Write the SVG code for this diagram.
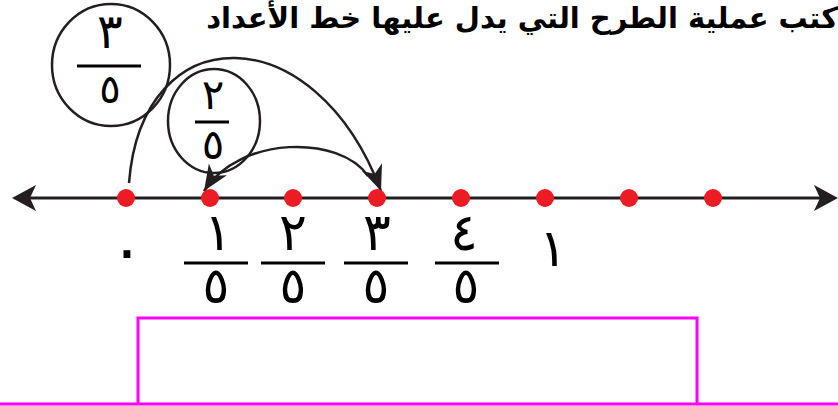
<svg xmlns="http://www.w3.org/2000/svg" width="838" height="406" viewBox="0 0 838 406">
<style>
.ink{stroke:#231f20;fill:none}
.num{font-family:"DejaVu Sans",sans-serif;fill:#000;text-anchor:middle}
.dot{fill:#ed1c24}
.bar{stroke:#000;stroke-width:3}
</style>
<defs>
<marker id="ah" markerUnits="userSpaceOnUse" markerWidth="30" markerHeight="30" refX="0" refY="0" viewBox="-26 -12 28 24" orient="auto">
<path d="M0,0 L-24,-10 L-17,0 L-24,10 Z" fill="#231f20"/>
</marker>
</defs>
<rect width="838" height="406" fill="#fff"/>
<text id="title" x="838" y="28" font-family="DejaVu Sans, sans-serif" font-weight="bold" font-size="29" text-anchor="end">كتب عملية الطرح التي يدل عليها خط الأعداد</text>
<g id="connectors">
<line x1="30" y1="198" x2="822" y2="198" class="ink" stroke-width="3"/>
<path d="M12,198 L36,185 L30,198 L36,211 Z" fill="#231f20"/>
<path d="M838,198 L814,185 L820,198 L814,211 Z" fill="#231f20"/>
<path d="M129,183 C142,15 315,15 381,191" class="ink" stroke-width="2.5" marker-end="url(#ah)"/>
<path d="M368,176 C340,135 240,135 204,191" class="ink" stroke-width="2.5" marker-end="url(#ah)"/>
</g>
<g id="dots">
<circle cx="126" cy="198" r="9" class="dot"/>
<circle cx="210" cy="198" r="9" class="dot"/>
<circle cx="293" cy="198" r="9" class="dot"/>
<circle cx="377" cy="198" r="9" class="dot"/>
<circle cx="461" cy="198" r="9" class="dot"/>
<circle cx="545" cy="198" r="9" class="dot"/>
<circle cx="629" cy="198" r="9" class="dot"/>
<circle cx="713" cy="198" r="9" class="dot"/>
</g>
<g id="circle-3-5">
<ellipse cx="111" cy="65" rx="59" ry="61" class="ink" stroke-width="2.5"/>
<line x1="77" y1="66" x2="141" y2="66" class="bar"/>
<text x="110" y="48" class="num" font-size="48">٣</text>
<text x="110" y="103" class="num" font-size="40">٥</text>
</g>
<g id="circle-2-5">
<ellipse cx="214" cy="121" rx="46" ry="52" class="ink" stroke-width="2.5"/>
<line x1="195" y1="122" x2="229" y2="122" class="bar"/>
<text x="213" y="109" class="num" font-size="42">٢</text>
<text x="213" y="159" class="num" font-size="42">٥</text>
</g>
<g id="label-0">
<text x="127" y="272" class="num" font-size="64">٠</text>
</g>
<g id="label-1-5">
<text x="218" y="250" class="num" font-size="52">١</text>
<line x1="184" y1="263" x2="248" y2="263" class="bar"/>
<text x="216" y="303" class="num" font-size="50">٥</text>
</g>
<g id="label-2-5">
<text x="293" y="250" class="num" font-size="52">٢</text>
<line x1="261" y1="263" x2="325" y2="263" class="bar"/>
<text x="293" y="303" class="num" font-size="50">٥</text>
</g>
<g id="label-3-5">
<text x="377" y="250" class="num" font-size="52">٣</text>
<line x1="344" y1="263" x2="408" y2="263" class="bar"/>
<text x="376" y="303" class="num" font-size="50">٥</text>
</g>
<g id="label-4-5">
<text x="464" y="250" class="num" font-size="52">٤</text>
<line x1="435" y1="263" x2="499" y2="263" class="bar"/>
<text x="466" y="303" class="num" font-size="50">٥</text>
</g>
<g id="label-1">
<text x="553" y="266" class="num" font-size="52">١</text>
</g>
<g id="answer-box">
<path d="M138,404 L138,318 L697,318 L697,404" fill="none" stroke="#ff00ff" stroke-width="3"/>
<line x1="0" y1="404" x2="838" y2="404" stroke="#ff00ff" stroke-width="3"/>
</g>
</svg>
